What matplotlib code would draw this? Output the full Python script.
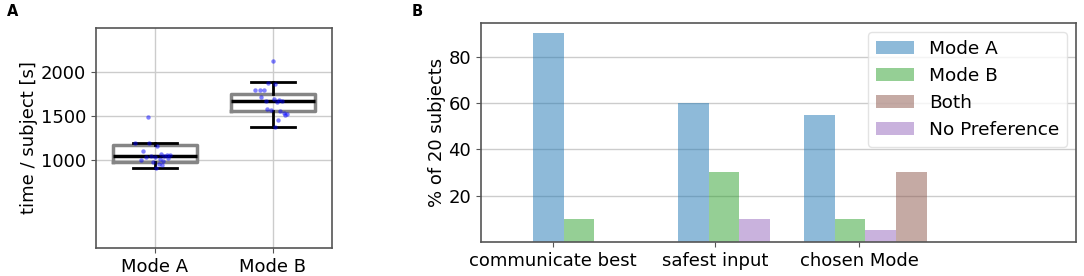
import matplotlib
matplotlib.use("Agg")
import matplotlib.pyplot as plt

# ---------------- data ----------------
# Panel A: box statistics and individual subject times
box_labels = ["Mode A", "Mode B"]
box_med = [1040, 1670]
box_q1 = [977, 1557]
box_q3 = [1167, 1746]
box_whislo = [910, 1375]
box_whishi = [1197, 1883]

times_a = [1490, 1195, 1190, 1160, 1100, 1070, 1060, 1055, 1045, 1040,
           1035, 1030, 1020, 1010, 1000, 990, 980, 960, 940, 910]
times_b = [2120, 1880, 1860, 1800, 1795, 1790, 1720, 1690, 1680, 1670,
           1665, 1660, 1580, 1570, 1560, 1530, 1520, 1510, 1460, 1380]

# Panel B: percentage of 20 subjects
categories = ["communicate best", "safest input", "chosen Mode"]
series_names = ["Mode A", "Mode B", "Both", "No Preference"]
mode_a = [90, 60, 55]
mode_b = [10, 30, 10]
both = [0, 0, 30]
no_pref = [0, 10, 5]

# ---------------- layout / style ----------------
W, H = 1084, 276
fig = plt.figure(figsize=(W / 100, H / 100), dpi=100)
FS = 13

def axrect(l, t, r, b):
    return [l / W, 1 - b / H, (r - l) / W, (b - t) / H]

spine_col = "#555555"
grid_col = "#cccccc"

# ---------- Panel A ----------
axA = fig.add_axes(axrect(96, 28, 332, 248))
stats = []
for i in range(2):
    stats.append(dict(med=box_med[i], q1=box_q1[i], q3=box_q3[i],
                      whislo=box_whislo[i], whishi=box_whishi[i],
                      fliers=[], label=box_labels[i]))
axA.bxp(stats, positions=[1, 2], widths=0.71, capwidths=0.37,
        showfliers=False,
        boxprops=dict(color="#858585", lw=2.5),
        medianprops=dict(color="black", lw=2.5),
        whiskerprops=dict(color="black", lw=2),
        capprops=dict(color="black", lw=2), zorder=2)

jit_a = [-0.06, -0.17, -0.05, 0.02, -0.1, 0.05, 0.1, 0.13, -0.03, 0.08,
         0.0, -0.08, 0.11, 0.04, -0.12, 0.07, -0.02, 0.03, 0.06, 0.01]
jit_b = [0.0, -0.04, 0.02, -0.11, -0.08, -0.15, -0.1, 0.01, 0.05, -0.06,
         0.08, 0.03, -0.05, -0.02, 0.06, 0.09, 0.12, 0.1, 0.04, 0.02]
axA.scatter([1 + j for j in jit_a], times_a, s=10, color="blue", alpha=0.5,
            lw=0, zorder=3)
axA.scatter([2 + j for j in jit_b], times_b, s=10, color="blue", alpha=0.5,
            lw=0, zorder=3)

axA.set_xlim(0.5, 2.5)
axA.set_ylim(0, 2500)
axA.set_yticks([1000, 1500, 2000])
axA.set_xticks([1, 2])
axA.set_xticklabels(box_labels)
axA.tick_params(labelsize=FS, color=spine_col)
axA.grid(True, color=grid_col, lw=1)
axA.set_axisbelow(True)
axA.set_ylabel("time / subject [s]", fontsize=FS, labelpad=2)
for s in axA.spines.values():
    s.set_color(spine_col)
    s.set_linewidth(1.2)
fig.text(13 / W, 1 - 12 / H, "A", fontsize=10.5, fontweight="bold",
         ha="center", va="center")

# ---------- Panel B ----------
axB = fig.add_axes(axrect(481, 23, 1076, 242))
group_start = [1.70, 6.44, 10.56]
tick_pos = [2.35, 7.65, 12.35]
slot = {"Mode A": 0, "Mode B": 1, "No Preference": 2, "Both": 3}
values = {"Mode A": mode_a, "Mode B": mode_b, "Both": both,
          "No Preference": no_pref}
colors = {"Mode A": "tab:blue", "Mode B": "tab:green", "Both": "tab:brown",
          "No Preference": "tab:purple"}
for name in series_names:
    xs = [g + slot[name] + 0.5 for g in group_start]
    axB.bar(xs, values[name], width=1.0, color=colors[name], alpha=0.5,
            label=name, zorder=2)

axB.set_xlim(0, 19.44)
axB.set_ylim(0, 94.5)
axB.set_yticks([20, 40, 60, 80])
axB.set_xticks(tick_pos)
axB.set_xticklabels(categories)
axB.tick_params(labelsize=FS, color=spine_col)
axB.grid(True, axis="y", color=grid_col, lw=1)
axB.set_axisbelow(True)
axB.set_ylabel("% of 20 subjects", fontsize=FS, labelpad=2)
for s in axB.spines.values():
    s.set_color(spine_col)
    s.set_linewidth(1.2)
leg = axB.legend(loc="upper right", fontsize=13.3, framealpha=0.8,
                 handlelength=2.1)
leg.get_frame().set_edgecolor("#dddddd")
fig.text(417 / W, 1 - 12 / H, "B", fontsize=10.5, fontweight="bold",
         ha="center", va="center")

fig.savefig("out.png", dpi=100)
